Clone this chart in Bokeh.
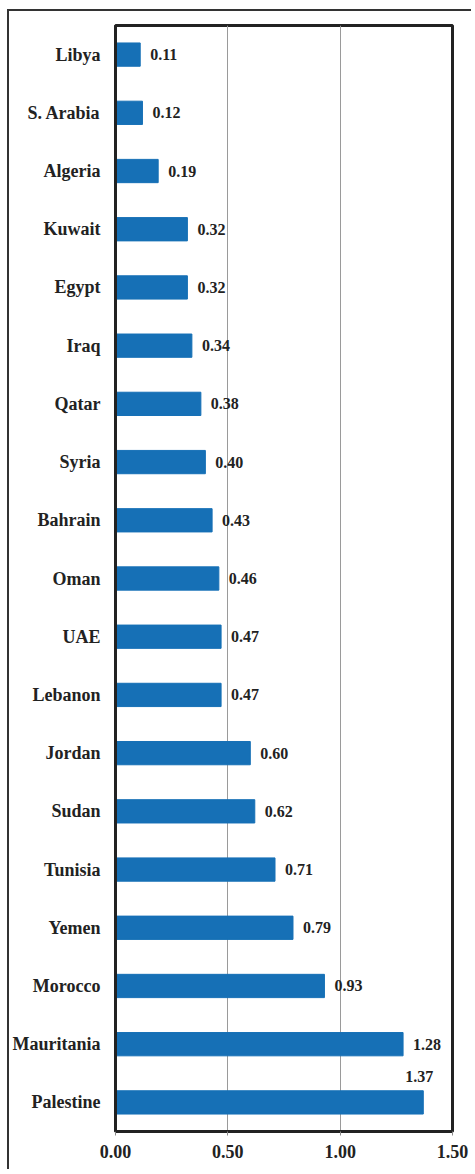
from bokeh.plotting import figure
from bokeh.models import ColumnDataSource, FactorRange, Range1d, NumeralTickFormatter, FixedTicker, LabelSet
from bokeh.embed import file_html
from bokeh.resources import INLINE
from bokeh.core.properties import value

countries = ["Libya", "S. Arabia", "Algeria", "Kuwait", "Egypt", "Iraq", "Qatar", "Syria",
             "Bahrain", "Oman", "UAE", "Lebanon", "Jordan", "Sudan", "Tunisia", "Yemen",
             "Morocco", "Mauritania", "Palestine"]
values = [0.11, 0.12, 0.19, 0.32, 0.32, 0.34, 0.38, 0.40, 0.43, 0.46, 0.47, 0.47,
          0.60, 0.62, 0.71, 0.79, 0.93, 1.28, 1.37]
x_ticks = [0.0, 0.5, 1.0, 1.5]

FONT = "Liberation Serif"
DARK = "#222222"

side = [c for c in countries if c != "Palestine"]
side_vals = [v for c, v in zip(countries, values) if c != "Palestine"]
top = [c for c in countries if c == "Palestine"]
top_vals = [v for c, v in zip(countries, values) if c == "Palestine"]

src = ColumnDataSource(dict(c=countries, v=values))
src_side = ColumnDataSource(dict(c=side, v=side_vals, t=["%.2f" % v for v in side_vals]))
src_top = ColumnDataSource(dict(c=top, v=top_vals, t=["%.2f" % v for v in top_vals]))

p = figure(width=464, height=1160, output_backend="svg", toolbar_location=None,
           y_range=FactorRange(*reversed(countries), range_padding=0),
           x_range=Range1d(0, 1.5),
           min_border_left=106, min_border_top=14, min_border_right=21, min_border_bottom=40)
p.styles = {"border-left": "2px solid #333", "border-top": "2px solid #333",
            "margin-left": "7px", "margin-top": "9px"}

p.hbar(y="c", right="v", left=0, height=0.4, source=src, fill_color="#1670B6", line_color="#1670B6")

p.add_layout(LabelSet(x="v", y="c", text="t", source=src_side, x_offset=10, text_align="left",
                      text_baseline="middle", text_font=value(FONT), text_font_style="bold",
                      text_font_size="16px", text_color=DARK))
p.add_layout(LabelSet(x="v", y="c", text="t", source=src_top, x_offset=-4, y_offset=26, text_align="center",
                      text_baseline="middle", text_font=value(FONT), text_font_style="bold",
                      text_font_size="16px", text_color=DARK))

p.outline_line_color = DARK
p.outline_line_width = 3
p.background_fill_color = "white"
p.border_fill_color = "white"

p.ygrid.grid_line_color = None
p.xgrid.ticker = FixedTicker(ticks=x_ticks)
p.xgrid.grid_line_color = "#9a9a9a"
p.xgrid.grid_line_width = 1

p.xaxis.ticker = FixedTicker(ticks=x_ticks)
p.xaxis.formatter = NumeralTickFormatter(format="0.00")
p.xaxis.axis_line_color = DARK
p.xaxis.axis_line_width = 3
p.xaxis.major_tick_out = 4
p.xaxis.major_tick_in = 0
p.xaxis.minor_tick_line_color = None
p.xaxis.major_tick_line_color = "#888888"
p.xaxis.major_label_standoff = 9
p.xaxis.major_label_text_font = FONT
p.xaxis.major_label_text_font_style = "bold"
p.xaxis.major_label_text_font_size = "18px"
p.xaxis.major_label_text_color = DARK

p.yaxis.axis_line_color = DARK
p.yaxis.axis_line_width = 3
p.yaxis.major_tick_line_color = None
p.yaxis.major_tick_out = 0
p.yaxis.major_tick_in = 0
p.yaxis.major_label_standoff = 15
p.yaxis.major_label_text_font = FONT
p.yaxis.major_label_text_font_style = "bold"
p.yaxis.major_label_text_font_size = "18px"
p.yaxis.major_label_text_color = DARK

open("out.html", "w").write(file_html(p, INLINE))
